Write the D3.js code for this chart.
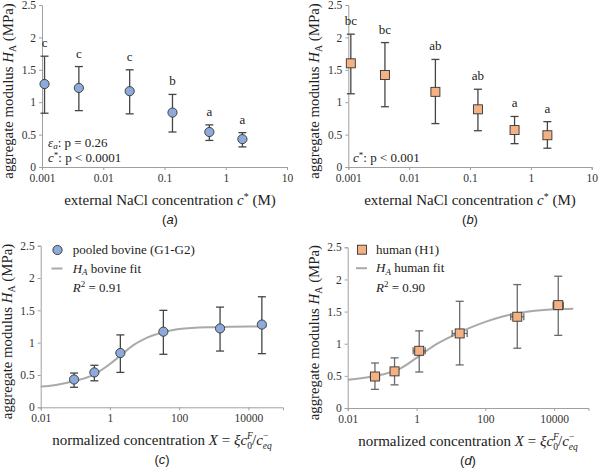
<!DOCTYPE html>
<html>
<head>
<meta charset="utf-8">
<script src="https://cdn.jsdelivr.net/npm/d3@7"></script>
<style>
  body { margin: 0; background: #fff; }
  svg { display: block; }
  text { font-family: "Liberation Serif", "Times New Roman", serif; fill: #222; }
  .tick text { font-size: 11.5px; fill: #333; }
  .lab { font-family: "Liberation Sans", Arial, sans-serif; font-size: 13px; }
</style>
</head>
<body>
<div id="chart"></div>
<script>
// salt concentrations c* (M), panels a and b
const saltConc = [0.0011, 0.004, 0.027, 0.135, 0.54, 1.87];

// panel a: bovine
const bovineHA = [1.28, 1.22, 1.17, 0.84, 0.54, 0.43];
const bovineLow = [0.83, 0.87, 0.82, 0.54, 0.41, 0.31];
const bovineHigh = [1.71, 1.55, 1.50, 1.12, 0.65, 0.53];
const bovineLetters = ["c", "c", "c", "b", "a", "a"];

// panel b: human
const humanHA = [1.60, 1.42, 1.16, 0.89, 0.57, 0.49];
const humanLow = [1.13, 0.93, 0.67, 0.56, 0.36, 0.29];
const humanHigh = [2.05, 1.92, 1.66, 1.20, 0.78, 0.70];
const humanLetters = ["bc", "bc", "ab", "ab", "a", "a"];

// panel c: normalized concentration X, bovine
const bovineX = [0.092, 0.355, 2.0, 35, 1520, 24500];
const bovineFitX = [0.01, 0.03, 0.1, 0.3, 1, 2, 5, 10, 35, 100, 1000, 10000, 34000];
const bovineFitY = [0.32, 0.35, 0.41, 0.49, 0.67, 0.80, 0.97, 1.06, 1.16, 1.21, 1.24, 1.25, 1.25];

// panel d: normalized concentration X, human (with x error)
const humanX = [0.062, 0.23, 1.2, 18, 850, 13200];
const humanXLow = [0.046, 0.176, 0.80, 10.9, 548, 9400];
const humanXHigh = [0.084, 0.30, 1.79, 29.7, 1318, 18500];
const humanFitX = [0.01, 0.03, 0.1, 0.3, 1, 3, 10, 30, 100, 300, 1000, 10000, 36000];
const humanFitY = [0.44, 0.47, 0.52, 0.60, 0.78, 0.96, 1.11, 1.23, 1.34, 1.42, 1.48, 1.535, 1.545];

const yTicks = [0, 0.5, 1, 1.5, 2, 2.5];
const saltTicks = [0.001, 0.01, 0.1, 1, 10];
const xTicks = [0.01, 1, 100, 10000];

const svg = d3.select('#chart').append('svg')
    .attr('width', 600).attr('height', 468);

const blue = '#8eaadb', orange = '#f4b183';

function panel(o) {
    const g = svg.append('g');
    const x = d3.scaleLog().domain(o.xDomain).range([o.left, o.right]);
    const y = d3.scaleLinear().domain([0, 2.5]).range([o.bottom, o.top]);

    const yax = g.append('g').attr('transform', `translate(${o.left},0)`)
        .call(d3.axisLeft(y).tickValues(yTicks).tickSize(3).tickPadding(3)
            .tickFormat(d3.format('')));
    const xax = g.append('g').attr('transform', `translate(0,${o.bottom})`)
        .call(d3.axisBottom(x).tickValues(o.xTicks).tickSize(3).tickPadding(4)
            .tickFormat(d => String(d)));
    [yax, xax].forEach(a => {
        a.select('.domain').attr('stroke', '#a0a0a0');
        a.selectAll('.tick line').attr('stroke', '#a0a0a0');
    });

    // fit line
    if (o.fitX) {
        const pts = o.fitX.map((v, i) => [v, o.fitY[i]]);
        g.append('path').datum(pts)
            .attr('fill', 'none').attr('stroke', '#a9a9a9').attr('stroke-width', 2)
            .attr('d', d3.line().x(d => x(d[0])).y(d => y(d[1])).curve(d3.curveMonotoneX));
    }

    const data = o.xs.map((v, i) => ({x: v, y: o.ys[i], lo: o.lo[i], hi: o.hi[i],
        xl: o.xl ? o.xl[i] : null, xh: o.xh ? o.xh[i] : null,
        letter: o.letters ? o.letters[i] : null}));

    const eb = g.append('g').attr('stroke', o.errColor).attr('stroke-width', 1.3);
    data.forEach(d => {
        const cx = x(d.x);
        eb.append('line').attr('x1', cx).attr('x2', cx).attr('y1', y(d.lo)).attr('y2', y(d.hi));
        eb.append('line').attr('x1', cx - 4).attr('x2', cx + 4).attr('y1', y(d.lo)).attr('y2', y(d.lo));
        eb.append('line').attr('x1', cx - 4).attr('x2', cx + 4).attr('y1', y(d.hi)).attr('y2', y(d.hi));
        if (d.xl) {
            const cy = y(d.y);
            eb.append('line').attr('x1', x(d.xl)).attr('x2', x(d.xh)).attr('y1', cy).attr('y2', cy);
            eb.append('line').attr('x1', x(d.xl)).attr('x2', x(d.xl)).attr('y1', cy - 3.5).attr('y2', cy + 3.5);
            eb.append('line').attr('x1', x(d.xh)).attr('x2', x(d.xh)).attr('y1', cy - 3.5).attr('y2', cy + 3.5);
        }
        if (d.letter) {
            g.append('text').attr('x', cx).attr('y', y(d.hi) - 9)
                .attr('text-anchor', 'middle').attr('font-size', 13).text(d.letter);
        }
    });

    if (o.shape === 'circle') {
        g.selectAll('.dot').data(data).enter().append('circle')
            .attr('cx', d => x(d.x)).attr('cy', d => y(d.y)).attr('r', 4.6)
            .attr('fill', blue).attr('stroke', '#333').attr('stroke-width', 0.9);
    } else {
        g.selectAll('.sq').data(data).enter().append('rect')
            .attr('x', d => x(d.x) - 4.5).attr('y', d => y(d.y) - 4.5)
            .attr('width', 9).attr('height', 9)
            .attr('fill', orange).attr('stroke', '#333').attr('stroke-width', 0.9);
    }

    // y axis title
    const cy = (o.top + o.bottom) / 2 + 5;
    const yt = g.append('text').attr('font-size', 14.8).attr('text-anchor', 'middle')
        .attr('transform', `translate(${o.left - 29},${cy}) rotate(-90)`);
    yt.append('tspan').text('aggregate modulus ');
    yt.append('tspan').attr('font-style', 'italic').text('H');
    yt.append('tspan').attr('font-size', 10).attr('dy', 3).text('A');
    yt.append('tspan').attr('dy', -3).text(' (MPa)');

    // x axis title
    const xt = g.append('text').attr('font-size', 15).attr('text-anchor', 'middle')
        .attr('x', o.titleX).attr('y', o.bottom + 38);
    o.xTitle(xt);

    const lb = g.append('text').attr('class', 'lab').attr('text-anchor', 'middle')
        .attr('x', o.titleX).attr('y', o.bottom + 57);
    lb.append('tspan').text('(');
    lb.append('tspan').attr('font-style', 'italic').text(o.tag);
    lb.append('tspan').text(')');
    return g;
}

function saltTitle(t) {
    t.append('tspan').text('external NaCl concentration ');
    t.append('tspan').attr('font-style', 'italic').text('c');
    t.append('tspan').attr('font-size', 10).attr('dy', -5).text('*');
    t.append('tspan').attr('dy', 5).text(' (M)');
}
function normTitle(t) {
    t.append('tspan').text('normalized concentration ');
    t.append('tspan').attr('font-style', 'italic').text('X');
    t.append('tspan').text(' = ');
    t.append('tspan').attr('font-style', 'italic').text('ξc');
    t.append('tspan').attr('font-size', 9.5).attr('font-style', 'italic').attr('dy', -6).text('F');
    t.append('tspan').attr('font-size', 9.5).attr('dx', -5.5).attr('dy', 10).text('0');
    t.append('tspan').attr('dy', -4).text('/');
    t.append('tspan').attr('font-style', 'italic').text('c');
    t.append('tspan').attr('font-size', 9.5).attr('dy', -6).text('−');
    t.append('tspan').attr('font-size', 9.5).attr('font-style', 'italic').attr('dx', -5.5).attr('dy', 10).text('eq');
}

const ga = panel({left: 42, right: 287, top: 5, bottom: 167, xDomain: [0.001, 10], xTicks: saltTicks,
    xs: saltConc, ys: bovineHA, lo: bovineLow, hi: bovineHigh, letters: bovineLetters,
    shape: 'circle', errColor: '#454545', titleX: 170, xTitle: saltTitle, tag: 'a'});
const gb = panel({left: 348.3, right: 591.7, top: 5, bottom: 167, xDomain: [0.001, 10], xTicks: saltTicks,
    xs: saltConc, ys: humanHA, lo: humanLow, hi: humanHigh, letters: humanLetters,
    shape: 'square', errColor: '#454545', titleX: 470, xTitle: saltTitle, tag: 'b'});
const gc = panel({left: 40.7, right: 283, top: 245.7, bottom: 407.3, xDomain: [0.01, 100000], xTicks: xTicks,
    xs: bovineX, ys: bovineHA.slice().reverse(), lo: bovineLow.slice().reverse(), hi: bovineHigh.slice().reverse(),
    fitX: bovineFitX, fitY: bovineFitY,
    shape: 'circle', errColor: '#454545', titleX: 162, xTitle: normTitle, tag: 'c'});
const gd = panel({left: 347.7, right: 588.5, top: 247.3, bottom: 408, xDomain: [0.01, 100000], xTicks: xTicks,
    xs: humanX, ys: humanHA.slice().reverse(), lo: humanLow.slice().reverse(), hi: humanHigh.slice().reverse(),
    xl: humanXLow, xh: humanXHigh, fitX: humanFitX, fitY: humanFitY,
    shape: 'square', errColor: '#6a6a6a', titleX: 468, xTitle: normTitle, tag: 'd'});

// annotations a, b
const s1 = ga.append('text').attr('x', 48).attr('y', 147).attr('font-size', 13);
s1.append('tspan').attr('font-style', 'italic').text('ε');
s1.append('tspan').attr('font-style', 'italic').attr('font-size', 9).attr('dy', 2).text('a');
s1.append('tspan').attr('dy', -2).text(': p = 0.26');
const s2 = ga.append('text').attr('x', 48).attr('y', 162).attr('font-size', 13);
s2.append('tspan').attr('font-style', 'italic').text('c');
s2.append('tspan').attr('font-size', 9).attr('dy', -4).text('*');
s2.append('tspan').attr('dy', 4).text(': p < 0.0001');
const s3 = gb.append('text').attr('x', 353).attr('y', 162).attr('font-size', 13);
s3.append('tspan').attr('font-style', 'italic').text('c');
s3.append('tspan').attr('font-size', 9).attr('dy', -4).text('*');
s3.append('tspan').attr('dy', 4).text(': p < 0.001');

// legends c, d
function legend(g, lx, tx, y0, shape, name, fitName, r2) {
    if (shape === 'circle') {
        g.append('circle').attr('cx', lx + 2).attr('cy', y0).attr('r', 4.6)
            .attr('fill', blue).attr('stroke', '#333').attr('stroke-width', 0.9);
    } else {
        g.append('rect').attr('x', lx - 2.5).attr('y', y0 - 4.5).attr('width', 9).attr('height', 9)
            .attr('fill', orange).attr('stroke', '#333').attr('stroke-width', 0.9);
    }
    g.append('text').attr('x', tx).attr('y', y0 + 4).attr('font-size', 13).text(name);
    g.append('line').attr('x1', lx - 4).attr('x2', lx + 7).attr('y1', y0 + 18.5).attr('y2', y0 + 18.5)
        .attr('stroke', '#a9a9a9').attr('stroke-width', 2);
    const f = g.append('text').attr('x', tx).attr('y', y0 + 22.5).attr('font-size', 13);
    f.append('tspan').attr('font-style', 'italic').text('H');
    f.append('tspan').attr('font-style', 'italic').attr('font-size', 9).attr('dy', 2.5).text('A');
    f.append('tspan').attr('dy', -2.5).text(' ' + fitName);
    const r = g.append('text').attr('x', tx).attr('y', y0 + 42).attr('font-size', 13);
    r.append('tspan').attr('font-style', 'italic').text('R');
    r.append('tspan').attr('font-size', 9).attr('dy', -5).text('2');
    r.append('tspan').attr('dy', 5).text(' = ' + r2);
}
legend(gc, 55.5, 72.7, 250, 'circle', 'pooled bovine (G1-G2)', 'bovine fit', '0.91');
legend(gd, 360, 376, 249.7, 'square', 'human (H1)', 'human fit', '0.90');
</script>
</body>
</html>
